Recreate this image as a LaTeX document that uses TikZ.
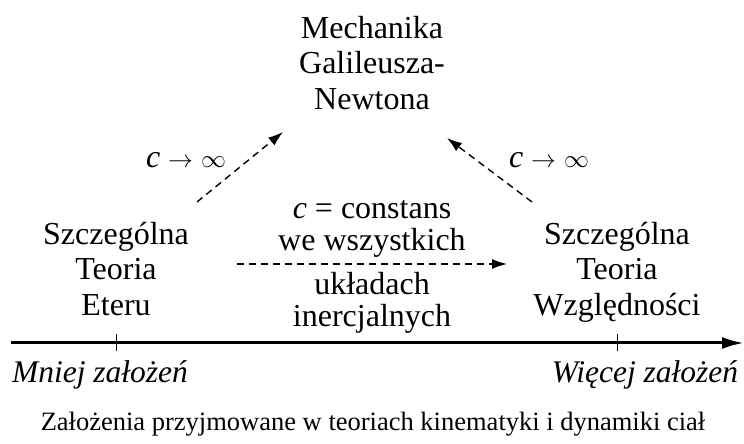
\documentclass[tikz,border=0pt]{standalone}
\usepackage{fontspec}
\setmainfont{Liberation Serif}
\usetikzlibrary{arrows.meta,positioning}

\tikzset{
  txt/.style={align=center, inner sep=0pt, anchor=north, font=\fontsize{32}{35.5}\selectfont},
  midtxt/.style={txt, font=\fontsize{32}{32}\selectfont},
  ital/.style={inner sep=0pt, anchor=base, font=\fontsize{31.5}{36}\selectfont\itshape},
  dasharrow/.style={line width=1.4pt, dash pattern=on 7pt off 5pt, -{Latex[length=15pt,width=10pt]}}
}

\begin{document}
\begin{tikzpicture}[x=1pt, y=1pt]
\useasboundingbox (0,0) rectangle (744,444);
% Theories
\node[txt] (mech) at (372, 428) {Mechanika\\Galileusza-\\Newtona};
\node[txt] (ste) at (116, 222) {Szczególna\\Teoria\\Eteru};
\node[txt] (str) at (617, 222) {Szczególna\\Teoria\\Względności};
% Limits c -> infinity
\node[txt, anchor=base] (limL) at (186, 276) {\textit{c} $\rightarrow$ $\infty$};
\node[txt, anchor=base] (limR) at (549, 276) {\textit{c} $\rightarrow$ $\infty$};
\draw[dasharrow] ([shift={(81,20)}]ste.north) -- ([shift={(-89,-116)}]mech.north);
\draw[dasharrow] ([shift={(-85,20)}]str.north) -- ([shift={(75,-122)}]mech.north);
% Constant speed of light
\node[midtxt] (constA) at (372, 244) {\textit{c} = constans\\we wszystkich};
\node[midtxt] (constB) at (372, 172) {układach\\inercjalnych};
\draw[dasharrow] ([shift={(121,-42)}]ste.north) -- ([shift={(-110,-42)}]str.north);
% Axis of assumptions
\coordinate (ax0) at (11, 101);
\coordinate (ax1) at (744, 101);
\draw[line width=3pt, -{Latex[length=22pt,width=12pt]}] (ax0) -- (ax1);
\draw[line width=0.9pt] ([yshift=8.5]ste |- ax0) -- ([yshift=-8.5]ste |- ax0);
\draw[line width=0.9pt] ([yshift=8.5]str |- ax0) -- ([yshift=-8.5]str |- ax0);
\node[ital] (less) at (100, 61) {Mniej założeń};
\node[ital] (more) at (645, 61) {Więcej założeń};
\node[txt, anchor=base, font=\fontsize{26.5}{30}\selectfont] (capt) at (373, 13) {Założenia przyjmowane w teoriach kinematyki i dynamiki ciał};
\end{tikzpicture}
\end{document}
